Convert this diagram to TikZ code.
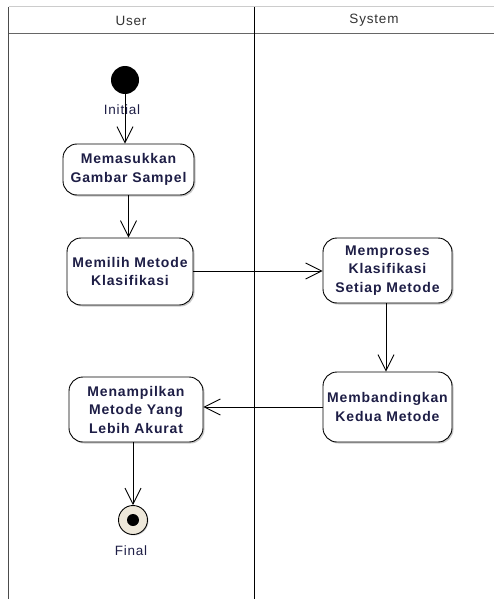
\documentclass[tikz,border=0pt]{standalone}
\usepackage{fontspec}
\setmainfont{Liberation Sans}
\newfontfamily\spaced[LetterSpace=6]{Liberation Sans}
\usetikzlibrary{arrows.meta,shadows}
\definecolor{txt}{RGB}{30,30,70}
\definecolor{finfill}{RGB}{238,232,218}
\tikzset{
  act/.style={draw=black, line width=0.9pt, rounded corners=14pt, fill=white,
    align=center, text=txt, font=\spaced\fontsize{14}{18.5}\selectfont\bfseries,
    inner sep=0pt,
    drop shadow={shadow xshift=1.5pt, shadow yshift=-1.5pt, fill=black!35, opacity=0.6}},
  flow/.style={draw=black, line width=0.9pt, -{Straight Barb[length=16pt,width=16pt,line width=0.9pt]}},
  lane/.style={line width=1pt},
  lbl/.style={text=txt, font=\spaced\fontsize{13.5}{15}\selectfont, inner sep=0pt}
}
\begin{document}
\begin{tikzpicture}[x=1pt,y=-1pt]
\useasboundingbox (0,0) rectangle (494,599);
\fill[white] (0,0) rectangle (494,599);
% swimlanes
\draw[lane, black!20] (8.5,7) -- (494,7);
\draw[lane, black!60] (8.5,34) -- (494,34);
\draw[lane, black!70] (8.5,7) -- (8.5,599);
\draw[lane, black] (254,7) -- (254,599);
\node[lbl, text=black!80] (hu) at (131,20.5) {User};
\node[lbl, text=black!80] (hs) at (374,20.5) {System};
% initial
\node[circle, fill=black, minimum size=28pt, inner sep=0pt] (init) at (125,80) {};
\node[lbl] (initl) at (122,110) {Initial};
% activities
\node[act, minimum width=131pt, minimum height=51pt] (mas) at (128.5,169.5) {Memasukkan\\Gambar Sampel};
\node[act, minimum width=126pt, minimum height=67pt] (mem) at (130,271.5) {Memilih Metode\\Klasifikasi};
\node[act, minimum width=129pt, minimum height=65pt] (pro) at (387.5,270.5) {Memproses\\Klasifikasi\\Setiap Metode};
\node[act, minimum width=129pt, minimum height=70pt] (band) at (387.5,407) {Membandingkan\\Kedua Metode};
\node[act, minimum width=134pt, minimum height=65pt] (tamp) at (136,409.5) {Menampilkan\\Metode Yang\\Lebih Akurat};
% final
\node[circle, draw=black, line width=0.9pt, fill=finfill, minimum size=29pt, inner sep=0pt,
  drop shadow={shadow xshift=1pt, shadow yshift=-1pt, fill=black!35, opacity=0.5}] (fin) at (133,520) {};
\node[circle, fill=black, minimum size=12pt, inner sep=0pt] (fincore) at (fin.center) {};
\node[lbl] (finl) at (131,551) {Final};
% flows
\draw[flow] (init.south) -- (init.south |- mas.north);
\draw[flow] (mas.south) -- (mas.south |- mem.north);
\draw[flow] (mem.east |- 0,271) -- (pro.west |- 0,271);
\draw[flow] (pro.south -| 386,0) -- (band.north -| 386,0);
\draw[flow] (band.west |- 0,407) -- (tamp.east |- 0,407);
\draw[flow] (tamp.south -| fin) -- (fin.north);
\end{tikzpicture}
\end{document}
